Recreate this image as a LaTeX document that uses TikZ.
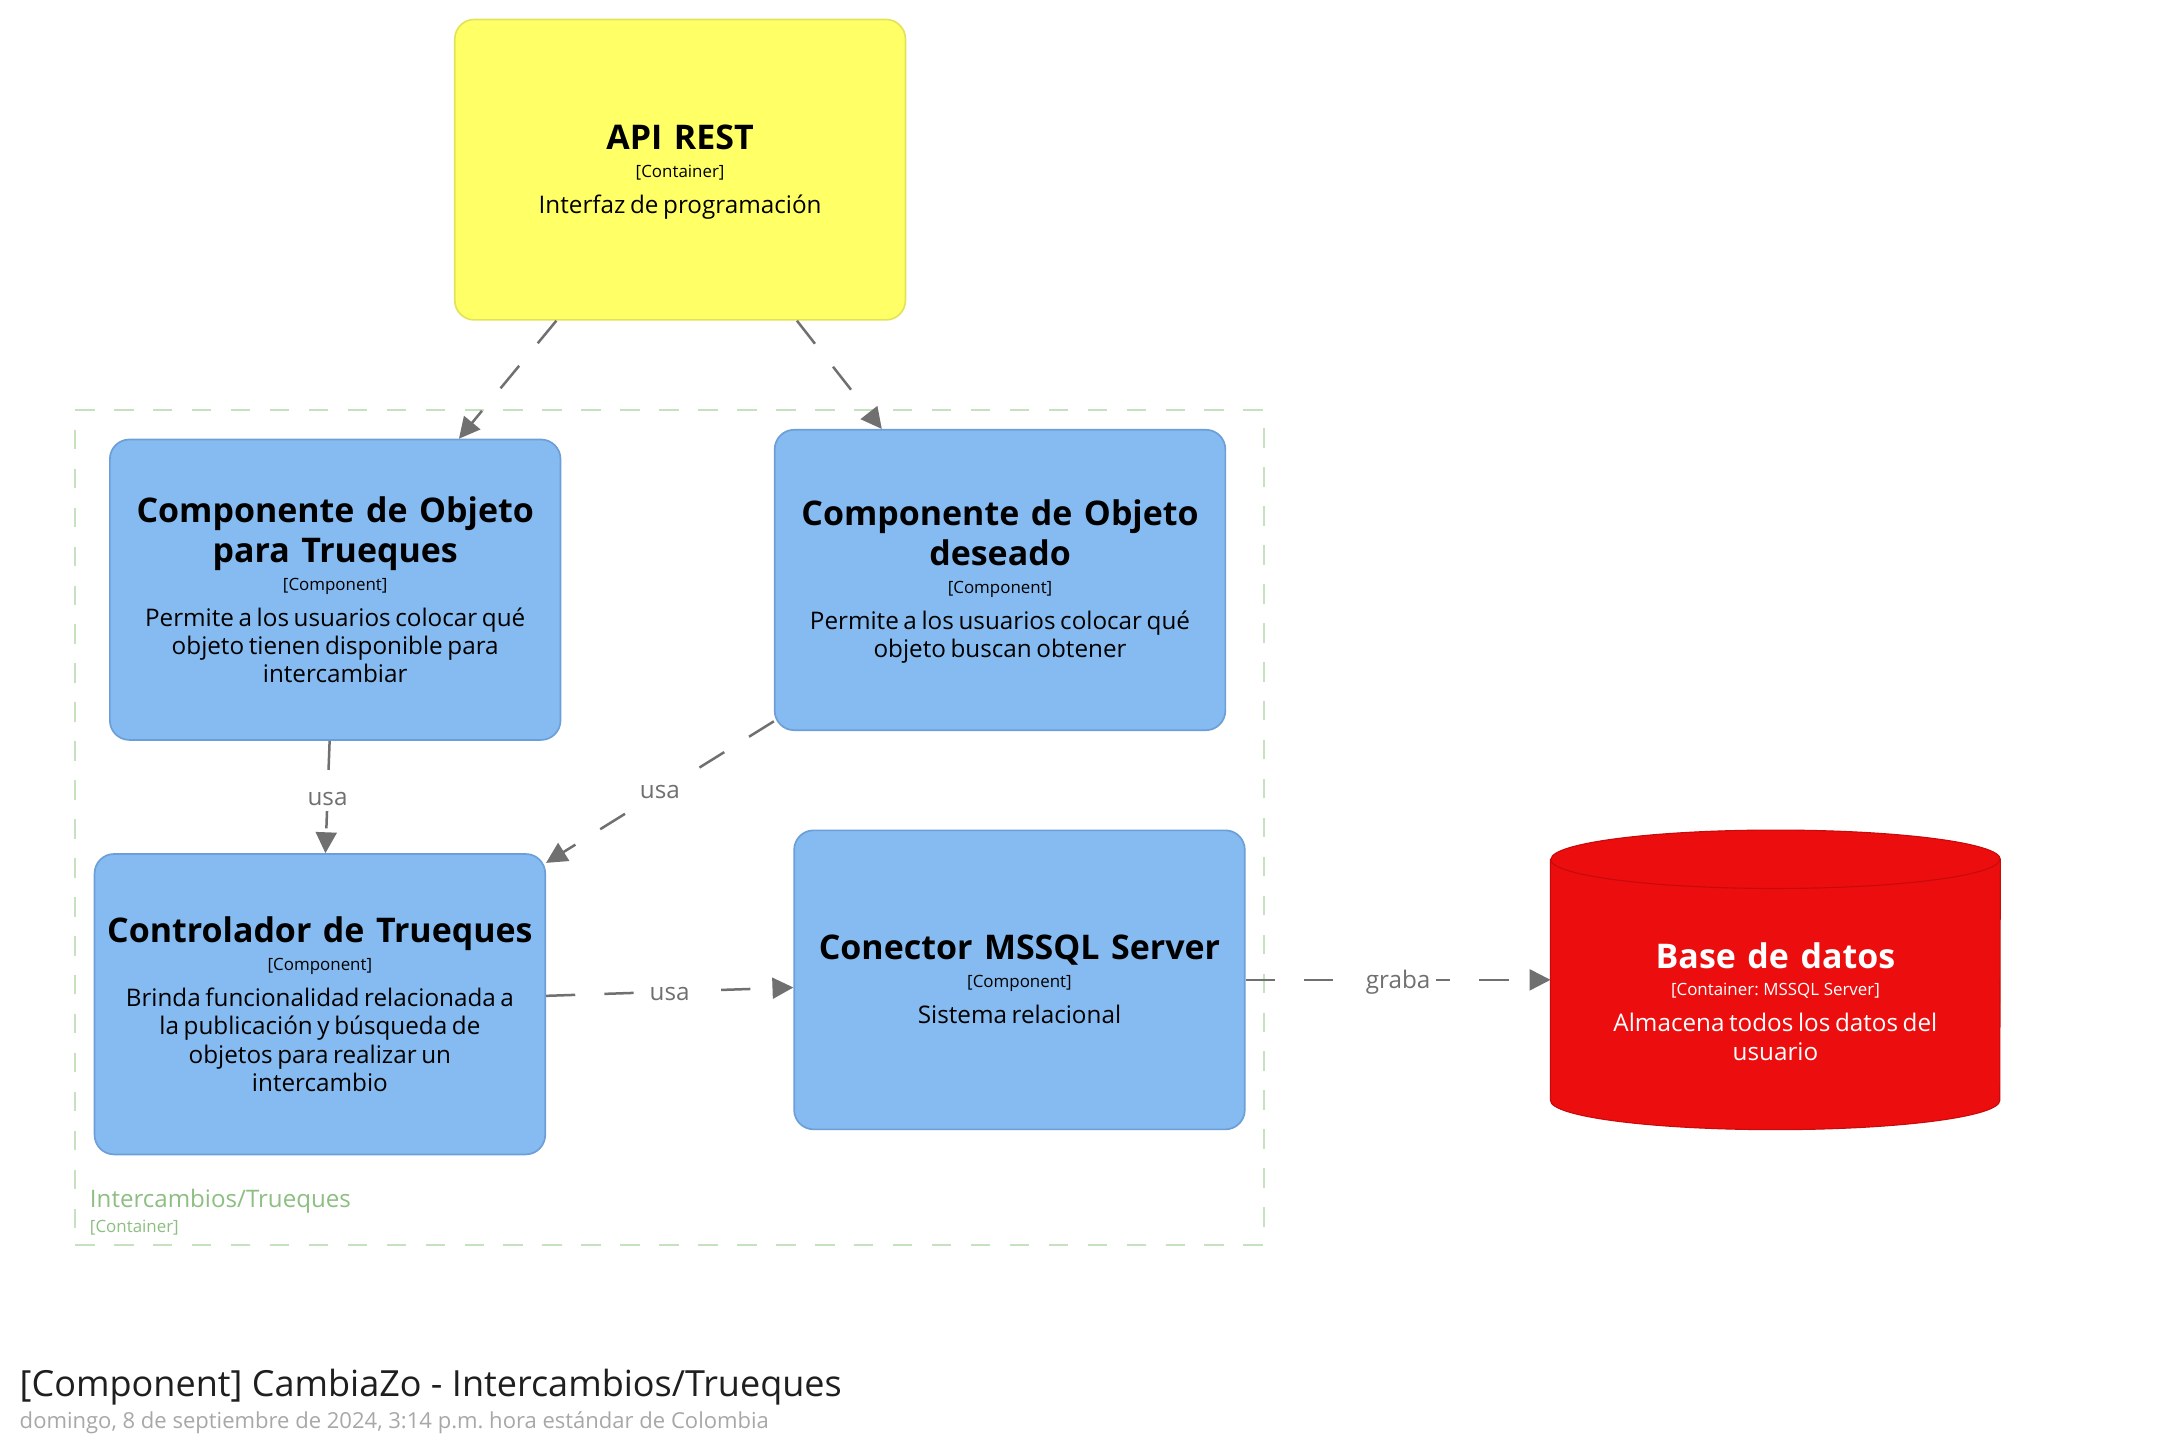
\documentclass[tikz,border=0pt]{standalone}
\usepackage{fontspec}
\setmainfont{Open Sans}
\usetikzlibrary{arrows.meta,calc}
\definecolor{apiyel}{HTML}{FFFF66}
\definecolor{apibrd}{HTML}{E3E35A}
\definecolor{compblue}{HTML}{85BBF0}
\definecolor{compbrd}{HTML}{6C9FD8}
\definecolor{dbred}{HTML}{EC0E0E}
\definecolor{dbbrd}{HTML}{C80A0A}
\definecolor{relgray}{HTML}{707070}
\definecolor{bndgreen}{HTML}{C6E1C0}
\definecolor{bndtext}{HTML}{8DBE82}
\definecolor{subgray}{HTML}{A8A8A8}
\newcommand\ttlf{\fontsize{24.5}{29}\selectfont\bfseries\spaceskip=0.34em\relax}
\newcommand\typf{\fontsize{12.2}{20}\selectfont}
\newcommand\dscf{\fontsize{17.5}{20.5}\selectfont}
\frenchspacing
\begin{document}
\begin{tikzpicture}[x=1bp,y=-1bp,
  box/.style={rectangle, rounded corners=14bp, minimum width=324bp, minimum height=216bp,
    inner sep=0pt, line width=1.2bp},
  compbox/.style={box, fill=compblue, draw=compbrd},
  apibox/.style={box, fill=apiyel, draw=apibrd},
  boxtext/.style={text width=318bp, align=center, inner sep=0pt},
  rel/.style={draw=relgray, line width=1.8bp, dash pattern=on 21bp off 21bp,
    -{Triangle[length=15bp,width=15bp]}},
  rellbl/.style={fill=white, text=relgray, font=\fontsize{17.5}{20}\selectfont, inner sep=4bp},
]
\useasboundingbox (0,0) rectangle (1567.4,1041.1);
\fill[white] (0,0) rectangle (1567.4,1041.1);

% boundary
\node[draw=bndgreen, line width=1.5bp, dash pattern=on 14bp off 14bp,
  minimum width=855bp, minimum height=600bp, inner sep=0pt] (bnd) at (481.5,595) {};
\node[anchor=west, text=bndtext, font=\fontsize{17.4}{20}\selectfont, inner sep=0pt] (bndlbl) at (64.5,864) {Intercambios/Trueques};
\node[anchor=west, text=bndtext, font=\fontsize{12.2}{14}\selectfont, inner sep=0pt] (bndtyp) at (64.5,883) {[Container]};

% API REST
\node[apibox] (api) at (489,122) {};
\node[boxtext] (apitxt) at (489,124) {{\ttlf API REST\par}{\typf [Container]\par}\vspace{5.5bp}{\dscf Interfaz de programación\par}};

% components
\node[compbox] (c1) at (241,424) {};
\node[boxtext] (c1txt) at (241,424) {{\ttlf Componente de Objeto\\para Trueques\par}{\typf [Component]\par}\vspace{5.5bp}{\dscf Permite a los usuarios colocar qué\\objeto tienen disponible para\\intercambiar\par}};

\node[compbox] (c2) at (719,417) {};
\node[boxtext] (c2txt) at (719,418) {{\ttlf Componente de Objeto\\deseado\par}{\typf [Component]\par}\vspace{5.5bp}{\dscf Permite a los usuarios colocar qué\\objeto buscan obtener\par}};

\node[compbox] (ctrl) at (230,722) {};
\node[boxtext] (ctrltxt) at (230,722) {{\ttlf Controlador de Trueques\par}{\typf [Component]\par}\vspace{5.5bp}{\dscf Brinda funcionalidad relacionada a\\la publicación y búsqueda de\\objetos para realizar un\\intercambio\par}};

\node[compbox, minimum height=215bp] (con) at (733,704.5) {};
\node[boxtext] (contxt) at (733,704) {{\ttlf Conector MSSQL Server\par}{\typf [Component]\par}\vspace{5.5bp}{\dscf Sistema relacional\par}};

% database cylinder
\node[rectangle, minimum width=323bp, minimum height=215bp, inner sep=0pt] (db) at (1276.5,704.5) {};
\fill[dbred, draw=dbbrd, line width=0.8bp] ($(db.north west)+(0,21)$) -- ($(db.south west)+(0,-21)$)
  arc[start angle=180, end angle=0, x radius=161.5, y radius=21]
  -- ($(db.north east)+(0,21)$)
  arc[start angle=0, end angle=-180, x radius=161.5, y radius=21] -- cycle;
\draw[dbbrd, line width=0.8bp] ($(db.north west)+(0,21)$) arc[start angle=180, end angle=0, x radius=161.5, y radius=21];
\node[boxtext, text=white] (dbtxt) at (1276.5,720)
  {{\ttlf Base de datos\par}{\typf [Container: MSSQL Server]\par}\vspace{5.5bp}{\dscf Almacena todos los datos del\\usuario\par}};

% relationships
\draw[rel] ($(api.south)+(-89,0)$) -- ($(c1.north)+(89,0)$);
\draw[rel] ($(api.south)+(84,0)$) -- ($(c2.north)+(-85,0)$);
\draw[rel] ($(c1.south)+(-4,0)$) -- node[rellbl, yshift=-1.5bp] (l1) {usa} ($(ctrl.north)+(4,0)$);
\draw[rel] ($(c2.south west)+(0,-7)$) -- node[rellbl] (l2) {usa} ($(ctrl.north east)+(0,7)$);
\draw[rel] ($(ctrl.east)+(0,-6)$) -- node[rellbl, yshift=-1.5bp] (l3) {usa} ($(con.west)+(0,5.5)$);
\draw[rel] (con.east) -- node[rellbl, yshift=-1.5bp] (l4) {graba} (db.west);

% title
\node[anchor=base west, inner sep=0pt, font=\fontsize{26}{30}\selectfont, text=black!88] (title) at (14,1004) {[Component] CambiaZo - Intercambios/Trueques};
\node[anchor=base west, inner sep=0pt, font=\fontsize{15.9}{19}\selectfont, text=subgray] (subtitle) at (14,1027) {domingo, 8 de septiembre de 2024, 3:14 p.m. hora estándar de Colombia};
\end{tikzpicture}
\end{document}
